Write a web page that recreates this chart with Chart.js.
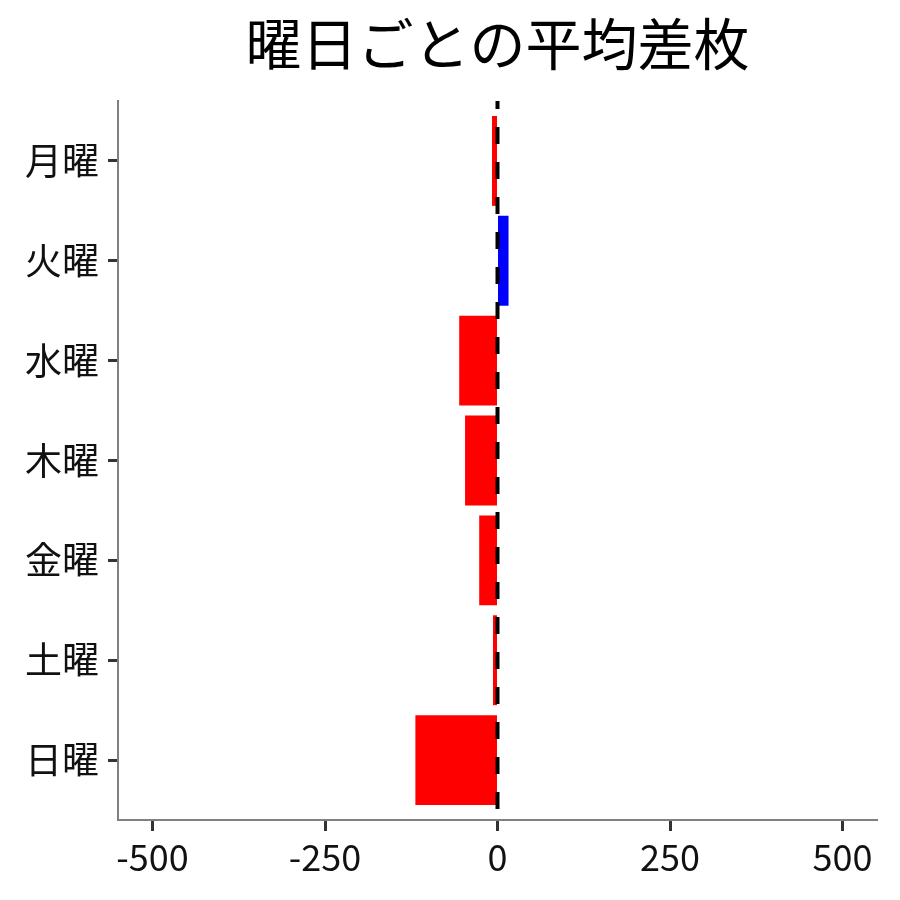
<!DOCTYPE html>
<html>
<head>
<meta charset="utf-8">
<script src="https://cdn.jsdelivr.net/npm/chart.js@4/dist/chart.umd.min.js"></script>
<style>
html,body{margin:0;padding:0;background:#fff;}
canvas{display:block;}
</style>
</head>
<body>
<canvas id="c" width="900" height="900"></canvas>
<script>
const titleText = "曜日ごとの平均差枚";
const days = ["月曜","火曜","水曜","木曜","金曜","土曜","日曜"];
const avgDiff = [-8, 16, -55.5, -47, -26.5, -6.5, -119];
const xTicks = [-500, -250, 0, 250, 500];
const posColor = "#0000FF";
const negColor = "#FF0000";

const FONT = "'Noto Sans CJK JP', 'Noto Sans', sans-serif";

const points = avgDiff.map((v, i) => ({ x: v, y: i + 1 }));
const colors = avgDiff.map(v => v >= 0 ? posColor : negColor);

const zeroLine = {
  id: 'zeroLine',
  afterDatasetsDraw(chart) {
    const { ctx, chartArea, scales } = chart;
    const x = scales.x.getPixelForValue(0);
    ctx.save();
    ctx.beginPath();
    ctx.rect(chartArea.left, chartArea.top, chartArea.right - chartArea.left, chartArea.bottom - chartArea.top);
    ctx.clip();
    ctx.strokeStyle = '#000';
    ctx.lineWidth = 4;
    ctx.setLineDash([17, 18]);
    ctx.lineDashOffset = 9;
    ctx.beginPath();
    ctx.moveTo(x, chartArea.top);
    ctx.lineTo(x, chartArea.bottom);
    ctx.stroke();
    ctx.restore();
  }
};

const titlePlugin = {
  id: 'panelTitle',
  afterDraw(chart) {
    const { ctx, chartArea } = chart;
    ctx.save();
    ctx.font = "56px " + FONT;
    ctx.fillStyle = '#000';
    ctx.textAlign = 'center';
    ctx.textBaseline = 'middle';
    ctx.fillText(titleText, (chartArea.left + chartArea.right) / 2, 44);
    ctx.restore();
  }
};

new Chart(document.getElementById('c'), {
  type: 'bar',
  data: {
    datasets: [{
      data: points,
      backgroundColor: colors,
      borderWidth: 0,
      barPercentage: 0.9,
      categoryPercentage: 1.0
    }]
  },
  options: {
    responsive: false,
    animation: false,
    devicePixelRatio: 1,
    indexAxis: 'y',
    layout: { padding: { top: 101, right: 23, left: 0, bottom: 0 } },
    plugins: { legend: { display: false }, title: { display: false }, tooltip: { enabled: false } },
    scales: {
      y: {
        type: 'linear',
        reverse: true,
        offset: false,
        min: 0.4,
        max: 7.6,
        afterBuildTicks: axis => { axis.ticks = days.map((d, i) => ({ value: i + 1 })); },
        afterFit: s => { s.width = 118; },
        ticks: {
          callback: v => days[Math.round(v) - 1],
          font: { family: FONT, size: 37 },
          color: '#111',
          padding: 9,
          autoSkip: false
        },
        grid: { display: true, offset: false, drawOnChartArea: false, drawTicks: true, tickLength: 10, tickWidth: 3, tickColor: '#333' },
        border: { display: true, color: '#808080', width: 2 }
      },
      x: {
        type: 'linear',
        min: -550,
        max: 550,
        afterBuildTicks: axis => { axis.ticks = xTicks.map(v => ({ value: v })); },
        afterFit: s => { s.height = 80; },
        ticks: {
          callback: v => String(v),
          font: { family: FONT, size: 36 },
          color: '#111',
          padding: 5,
          maxRotation: 0,
          autoSkip: false
        },
        grid: { display: true, drawOnChartArea: false, drawTicks: true, tickLength: 11, tickWidth: 3, tickColor: '#333' },
        border: { display: true, color: '#808080', width: 2 }
      }
    }
  },
  plugins: [zeroLine, titlePlugin]
});
</script>
</body>
</html>
